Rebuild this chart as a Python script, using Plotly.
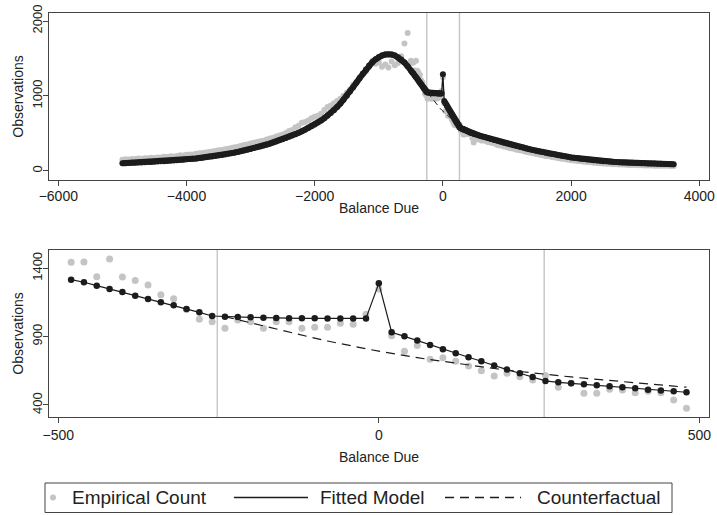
import plotly.graph_objects as go

# ---------------- data ----------------
# Bottom panel (20-unit bins around zero)
bin_x = list(range(-480, 481, 20))
empirical_zoom = [1444, 1446, 1339, 1468, 1337, 1310, 1278, 1207, 1178, 1098, 1027, 1009,
                  961, 1022, 1009, 961, 1009, 1009, 961, 968, 968, 998, 991, 1064,
                  1248,
                  906, 794, 835, 734, 746, 720, 685, 651, 612, 632, 607, 583, 615,
                  529, 559, 485, 485, 515, 510, 490, 500, 490, 437, 376]
fitted_zoom = [1317, 1298, 1273, 1249, 1227, 1200, 1176, 1151, 1129, 1102, 1078, 1051,
               1046, 1044, 1041, 1039, 1036, 1035, 1034, 1034, 1033, 1033, 1033, 1033,
               1290,
               932, 902, 871, 839, 807, 778, 749, 720, 688, 659, 632, 605, 576,
               566, 559, 551, 544, 537, 529, 522, 512, 505, 500, 493]
cf_x = list(range(-240, 481, 20))
counterfactual = [1046, 1023, 1001, 979, 957, 935, 910, 889, 868, 848, 829, 811,
                  794, 777, 761, 746, 732, 718, 704, 691, 679, 667, 655, 644, 633,
                  623, 614, 605, 596, 587, 578, 570, 562, 554, 546, 538, 530]

# Top panel, outside the zoom window (50-unit bins)
left_x = list(range(-5000, -499, 50))
right_x = list(range(500, 3601, 50))
empirical_left = [148, 152, 150, 158, 155, 162, 160, 168, 165, 172, 170, 178, 176, 185, 182,
                  192, 190, 198, 205, 202, 212, 218, 215, 228, 232, 238, 245, 250, 258, 262,
                  272, 278, 288, 295, 302, 312, 320, 332, 345, 350, 362, 372, 385, 395, 402,
                  418, 432, 440, 458, 470, 485, 505, 530, 545, 580, 600, 640, 650, 670, 700,
                  720, 735, 760, 810, 850, 870, 900, 930, 960, 1000, 1040, 1085, 1150, 1190,
                  1250, 1300, 1330, 1390, 1470, 1430, 1450, 1390, 1420, 1380, 1460, 1410,
                  1440, 1530, 1700, 1840, 1470]
fitted_left = [99, 101, 103, 105, 107, 109, 111, 113, 115, 117, 120, 122, 125, 128, 131,
               134, 137, 140, 144, 148, 152, 156, 160, 164, 169, 174, 179, 185, 191, 197,
               204, 211, 218, 226, 234, 242, 251, 260, 270, 280, 291, 302, 313, 325, 337,
               350, 363, 377, 391, 406, 421, 437, 453, 470, 488, 507, 527, 548, 570, 593,
               617, 643, 671, 701, 734, 770, 809, 852, 898, 948, 1001, 1057, 1115, 1175,
               1236, 1296, 1352, 1404, 1450, 1488, 1518, 1539, 1552, 1556, 1552, 1540,
               1516, 1485, 1445, 1395, 1340]
empirical_right = [440, 420, 405, 400, 385, 375, 362, 345, 338, 325, 315, 300, 292, 280, 272,
                   262, 250, 242, 235, 222, 215, 205, 198, 192, 182, 175, 168, 160, 155, 148,
                   140, 135, 130, 125, 120, 115, 112, 108, 104, 100, 97, 94, 92, 88, 86,
                   84, 82, 80, 78, 77, 75, 74, 72, 71, 70, 69, 68, 67, 66, 65, 65, 64, 63]
fitted_right = [488, 475, 462, 449, 436, 424, 411, 399, 387, 375, 363, 352, 341, 330, 319,
                309, 298, 288, 278, 268, 258, 249, 240, 231, 223, 215, 207, 199, 192, 185,
                178, 172, 166, 160, 155, 150, 145, 141, 136, 132, 128, 125, 122, 119, 116,
                114, 111, 109, 107, 105, 103, 102, 100, 99, 97, 96, 95, 94, 92, 91, 90, 89, 88]

window_bounds = [-252, 258]
top_xticks = [-6000, -4000, -2000, 0, 2000, 4000]
top_yticks = [0, 1000, 2000]
bot_xticks = [-500, 0, 500]
bot_yticks = [400, 900, 1400]
legend_labels = ["Empirical Count", "Fitted Model", "Counterfactual"]

# ---------------- figure ----------------
W, H = 717, 515
ML, MR, MT, MB = 49, 8, 13, 98
PW, PH = W - ML - MR, H - MT - MB

def px(x):
    return (x - ML) / PW

def py(y):
    return (H - MB - y) / PH

GREY = "#c4c4c4"
BLACK = "#1c1c1c"
FRAME = "#444444"

top_x = left_x + bin_x + right_x
top_emp = empirical_left + empirical_zoom + empirical_right
top_fit = fitted_left + fitted_zoom + fitted_right
# thick segments of the fitted curve (everything except the notch at zero)
i0 = bin_x.index(0)
thick_lx = left_x + bin_x[:i0]
thick_ly = fitted_left + fitted_zoom[:i0]
thick_rx = bin_x[i0 + 1:] + right_x
thick_ry = fitted_zoom[i0 + 1:] + fitted_right

fig = go.Figure()

# top panel
fig.add_trace(go.Scatter(x=top_x, y=top_emp, mode="markers", xaxis="x", yaxis="y",
                         marker=dict(color=GREY, size=6), showlegend=False))
fig.add_trace(go.Scatter(x=cf_x, y=counterfactual, mode="lines", xaxis="x", yaxis="y",
                         line=dict(color=BLACK, width=1, dash="6px,4px"), showlegend=False))
for tx, ty in ((thick_lx, thick_ly), (thick_rx, thick_ry)):
    fig.add_trace(go.Scatter(x=tx, y=ty, mode="lines", xaxis="x", yaxis="y",
                             line=dict(color=BLACK, width=6), showlegend=False))
fig.add_trace(go.Scatter(x=top_x, y=top_fit, mode="lines+markers", xaxis="x", yaxis="y",
                         line=dict(color=BLACK, width=1.3),
                         marker=dict(color=BLACK, size=6), showlegend=False))

# bottom panel
fig.add_trace(go.Scatter(x=bin_x, y=empirical_zoom, mode="markers", xaxis="x2", yaxis="y2",
                         marker=dict(color=GREY, size=7), showlegend=False))
fig.add_trace(go.Scatter(x=cf_x, y=counterfactual, mode="lines", xaxis="x2", yaxis="y2",
                         line=dict(color=BLACK, width=1.2, dash="9px,6px"), showlegend=False))
fig.add_trace(go.Scatter(x=bin_x, y=fitted_zoom, mode="lines+markers", xaxis="x2", yaxis="y2",
                         line=dict(color=BLACK, width=1.2),
                         marker=dict(color=BLACK, size=6.5), showlegend=False))

shapes = []
for xv in window_bounds:
    for xr, yr in (("x", "y domain"), ("x2", "y2 domain")):
        shapes.append(dict(type="line", xref=xr, yref=yr, x0=xv, x1=xv, y0=0, y1=1,
                           line=dict(color="#c8c8c8", width=1.5), layer="below"))

# legend (drawn in paper space)
LY = 497.5
shapes.append(dict(type="rect", xref="paper", yref="paper", x0=px(45), x1=px(672),
                   y0=py(512.5), y1=py(483), line=dict(color=FRAME, width=1)))
shapes.append(dict(type="circle", xref="paper", yref="paper", x0=px(50), x1=px(56),
                   y0=py(LY + 3), y1=py(LY - 3), fillcolor=GREY, line=dict(width=0)))
shapes.append(dict(type="line", xref="paper", yref="paper", x0=px(234), x1=px(308),
                   y0=py(LY), y1=py(LY), line=dict(color=BLACK, width=1.5)))
shapes.append(dict(type="line", xref="paper", yref="paper", x0=px(445), x1=px(521),
                   y0=py(LY), y1=py(LY), line=dict(color=BLACK, width=1.5, dash="9px,6px")))

annotations = []
for label, x0 in zip(legend_labels, [70, 318, 535]):
    annotations.append(dict(text=label, xref="paper", yref="paper", x=px(x0), y=py(LY),
                            xanchor="left", yanchor="middle", showarrow=False,
                            font=dict(size=19, color="#222222")))

axis_common = dict(showline=True, mirror=True, linecolor=FRAME, linewidth=1.2,
                   ticks="outside", ticklen=5, tickwidth=1, tickcolor=FRAME,
                   showgrid=False, zeroline=False, automargin=False,
                   tickfont=dict(size=14, color="#222222"),
                   title_font=dict(size=14, color="#222222"))

top_dom = [py(180), 1]
bot_dom = [0, py(250)]

fig.update_layout(
    width=W, height=H, margin=dict(l=ML, r=MR, t=MT, b=MB),
    paper_bgcolor="white", plot_bgcolor="white",
    font=dict(family="Liberation Sans, Arial, sans-serif", color="#222222"),
    xaxis=dict(axis_common, domain=[0, 1], anchor="y", range=[-6145, 4151],
               tickvals=top_xticks, ticklabelstandoff=-2, title=dict(text="Balance Due", standoff=0)),
    yaxis=dict(axis_common, domain=top_dom, anchor="x", range=[-124, 2107],
               tickvals=top_yticks, tickangle=-90, ticklabelstandoff=-4,
               tickfont=dict(size=13, color="#222222"),
               title=dict(text="Observations", standoff=2)),
    xaxis2=dict(axis_common, domain=[0, 1], anchor="y2", range=[-514.5, 515.1],
                tickvals=bot_xticks, title=dict(text="Balance Due", standoff=10)),
    yaxis2=dict(axis_common, domain=bot_dom, anchor="x2", range=[312, 1534],
                tickvals=bot_yticks, tickangle=-90, ticklabelstandoff=-4,
                tickfont=dict(size=13, color="#222222"),
                title=dict(text="Observations", standoff=2)),
    shapes=shapes, annotations=annotations, showlegend=False,
)

fig.write_html("out.html", config={"displayModeBar": False},
               post_script="document.body.style.margin='0';")
